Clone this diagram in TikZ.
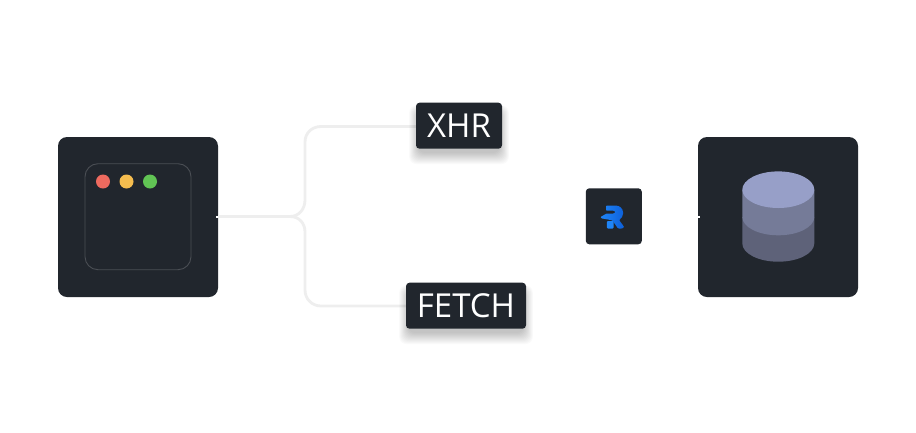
\documentclass[tikz,border=0pt]{standalone}
\usepackage{fontspec}
\setmainfont{Open Sans}
\definecolor{panel}{HTML}{21262D}
\definecolor{wire}{HTML}{EEEEEE}
\definecolor{frameline}{HTML}{4A4E54}
\definecolor{dotred}{HTML}{EE6A5F}
\definecolor{dotyellow}{HTML}{F5BD4F}
\definecolor{dotgreen}{HTML}{61C454}
\definecolor{cyltop}{HTML}{979FC8}
\definecolor{cylmid}{HTML}{757B98}
\definecolor{cyllow}{HTML}{5E6279}
\definecolor{logoblue}{HTML}{1F85F7}
\definecolor{logodeep}{HTML}{0D5FD9}
\tikzset{
  panelbox/.style={fill=panel,draw=none,rounded corners=9pt,minimum width=160pt,minimum height=160pt,inner sep=0pt},
  tagbox/.style={fill=panel,draw=none,rounded corners=3.5pt,minimum height=46pt,inner sep=0pt,text=white,font=\fontsize{33}{33}\selectfont},
  logobox/.style={fill=panel,draw=none,rounded corners=3.5pt,minimum width=56pt,minimum height=56pt,inner sep=0pt},
  framebox/.style={draw=frameline,line width=.9pt,rounded corners=13pt,minimum width=106pt,minimum height=106pt,inner sep=0pt},
  winbtn/.style={circle,minimum size=14pt,inner sep=0pt},
  link/.style={draw=wire,line width=2.8pt},
  stub/.style={draw=white,line width=2pt},
  softshadow/.style={black,opacity=.018,rounded corners=7pt}
}
\begin{document}
\begin{tikzpicture}[x=1pt,y=-1pt]
\useasboundingbox (0,0) rectangle (916,432);
\fill[white] (0,0) rectangle (916,432);
% connectors
\coordinate (split) at (290,216.5);
\coordinate (upper) at (305,142);
\coordinate (lower) at (305,290);
\node[panelbox] (browser) at (138,217) {};
\node[panelbox] (store) at (778,217) {};
\coordinate (xin) at (420,126.5);
\coordinate (fin) at (410,306);
\draw[link] (browser.east |- 0,216.5) -- (split)
  .. controls (299,216.5) and (305,209) .. (305,200) -- (upper)
  .. controls (305,133) and (312,126.5) .. (321,126.5) -- (xin);
\draw[link] (split)
  .. controls (299,216.5) and (305,223) .. (305,232) -- (lower)
  .. controls (305,299) and (312,306) .. (321,306) -- (fin);
\draw[stub] (216,216.5) -- (browser.east |- 0,216.5);
\draw[stub] (store.west |- 0,216.5) -- (700,216.5);
% shadows
\foreach \i in {0,...,11}{
  \fill[softshadow] (418-\i*.8,112-\i*.6) rectangle (500+\i*.8,153+\i);
  \fill[softshadow] (408-\i*.8,292-\i*.6) rectangle (524+\i*.8,333+\i);
}
% tags
\node[tagbox,minimum width=86pt] (xhr) at (459,125.7) {XHR};
\node[tagbox,minimum width=120pt] (fetch) at (466,305.7) {FETCH};
% logo
\node[logobox] (logo) at (613.8,216.3) {};
\shade[left color=logoblue,right color=logodeep,rounded corners=.8pt]
  (606,205.5) -- (615,205.5) .. controls (620,205.5) and (623,209) .. (623,213)
  .. controls (623,216) and (621.5,218.5) .. (619,220) -- (623.5,226) .. controls (624.3,228) and (622.5,228.5) .. (620.5,228.5)
  -- (618,228.5) -- (612.5,220.5) -- (609,219.7)
  -- (601,218.3) -- (600.6,217) -- (606.5,213.5)
  -- (614,213.5) -- (615.5,212) -- (614,210.7) -- (606,210.7) -- cycle;
\fill[logoblue,rounded corners=1pt] (606.8,221) -- (613.5,221) -- (613.5,228.5) -- (606.8,228.5) -- cycle;
% browser window
\node[framebox] (frame) at (138,216.7) {};
\node[winbtn,fill=dotred] (bred) at (103,181.5) {};
\node[winbtn,fill=dotyellow] (byellow) at (126.5,181.5) {};
\node[winbtn,fill=dotgreen] (bgreen) at (150,181.5) {};
% database
\fill[cyllow] (742.3,217) -- (742.3,243.4) arc[start angle=180,end angle=0,x radius=36,y radius=18.3] -- (814.3,217) -- cycle;
\fill[cylmid] (742.3,190) -- (742.3,217) arc[start angle=180,end angle=0,x radius=36,y radius=18.3] -- (814.3,190) -- cycle;
\fill[cyltop] (778.3,189.7) ellipse[x radius=36,y radius=18.3];
\end{tikzpicture}
\end{document}
